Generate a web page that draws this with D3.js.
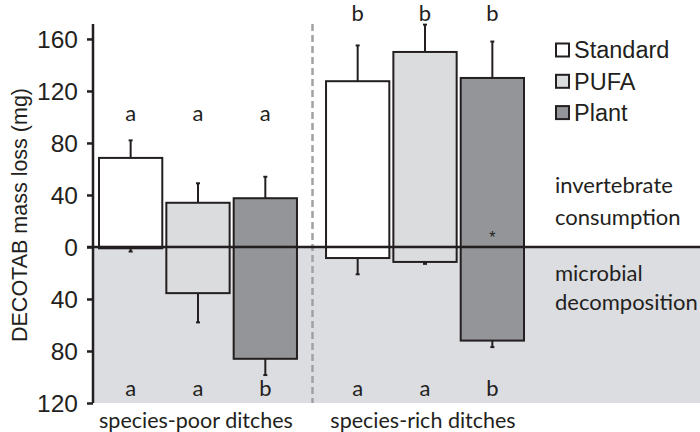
<!DOCTYPE html>
<html>
<head>
<meta charset="utf-8">
<script src="https://cdn.jsdelivr.net/npm/d3@7/dist/d3.min.js"></script>
<style>
  html, body { margin: 0; padding: 0; background: #fff; }
  svg { display: block; }
</style>
</head>
<body>
<svg id="chart" width="700" height="432"></svg>
<script>
// ---- data ----
const categories = ["species-poor ditches", "species-rich ditches"];
const series = ["Standard", "PUFA", "Plant"];
// invertebrate consumption (positive part), per category, per series
const invertebrate = [[68.5, 34, 37.5], [127.5, 150, 130]];
const invertebrateErr = [[82, 49, 54], [155, 171, 158]];
// microbial decomposition (plotted downward), per category, per series
const microbial = [[1, 35.5, 86], [8.5, 11.5, 72]];
const microbialErr = [[3.5, 58, 98.5], [21, 13, 77]];
// significance letters
const lettersTop = [["a", "a", "a"], ["b", "b", "b"]];
const lettersBottom = [["a", "a", "b"], ["a", "a", "b"]];
const lettersTopLevel = [103, 180];
const lettersBottomLevel = -109;
const asterisk = { category: 1, series: 2, level: 10 };
const yTicks = [-120, -80, -40, 0, 40, 80, 120, 160];
const colors = { Standard: "#ffffff", PUFA: "#dbdcde", Plant: "#949598" };

// ---- layout ----
const svg = d3.select("#chart");
const W = 700;
const axisX = 93;
const y = d3.scaleLinear().domain([-120, 171.5]).range([403, 24]);
const x0 = d3.scaleBand().domain(categories).range([99, 524]).paddingInner(0.128).paddingOuter(0);
const x1 = d3.scaleBand().domain(series).range([0, x0.bandwidth()]).padding(0.06).paddingOuter(0);

const arial = "'Liberation Sans', Arial, sans-serif";
const cal = "Lato, 'Open Sans', sans-serif";
const ink = "#231f20";

// gray background for microbial part
svg.append("rect")
  .attr("x", axisX).attr("y", y(0))
  .attr("width", W - axisX).attr("height", y(-120) - y(0))
  .attr("fill", "#dcdde0");

// dashed separator
const sepX = (x0(categories[0]) + x0.bandwidth() + x0(categories[1])) / 2 + 1;
svg.append("line")
  .attr("x1", sepX).attr("x2", sepX)
  .attr("y1", y(171.5)).attr("y2", y(-120))
  .attr("stroke", "#a0a1a4").attr("stroke-width", 2.5)
  .attr("stroke-dasharray", "7,4");

// bars
const rows = [];
categories.forEach((c, ci) => series.forEach((s, si) => rows.push({
  c, s, ci, si,
  up: invertebrate[ci][si], upErr: invertebrateErr[ci][si],
  down: microbial[ci][si], downErr: microbialErr[ci][si]
})));

const g = svg.append("g");
const ebW = 2;
const cxOf = d => x0(d.c) + x1(d.s) + x1.bandwidth() / 2;
g.selectAll(".eu").data(rows).enter().append("line")
  .attr("x1", cxOf).attr("x2", cxOf)
  .attr("y1", d => y(d.up)).attr("y2", d => y(d.upErr))
  .attr("stroke", ink).attr("stroke-width", ebW);
g.selectAll(".euc").data(rows).enter().append("line")
  .attr("x1", d => cxOf(d) - 2).attr("x2", d => cxOf(d) + 2)
  .attr("y1", d => y(d.upErr)).attr("y2", d => y(d.upErr))
  .attr("stroke", ink).attr("stroke-width", 2);
g.selectAll(".ed").data(rows).enter().append("line")
  .attr("x1", cxOf).attr("x2", cxOf)
  .attr("y1", d => y(-d.down)).attr("y2", d => y(-d.downErr))
  .attr("stroke", ink).attr("stroke-width", ebW);
g.selectAll(".edc").data(rows).enter().append("line")
  .attr("x1", d => cxOf(d) - 2).attr("x2", d => cxOf(d) + 2)
  .attr("y1", d => y(-d.downErr)).attr("y2", d => y(-d.downErr))
  .attr("stroke", ink).attr("stroke-width", 2);

g.selectAll(".bu").data(rows).enter().append("rect")
  .attr("x", d => x0(d.c) + x1(d.s))
  .attr("width", x1.bandwidth())
  .attr("y", d => y(d.up)).attr("height", d => y(0) - y(d.up))
  .attr("fill", d => colors[d.s]).attr("stroke", ink).attr("stroke-width", 2);
g.selectAll(".bd").data(rows).enter().append("rect")
  .attr("x", d => x0(d.c) + x1(d.s))
  .attr("width", x1.bandwidth())
  .attr("y", y(0)).attr("height", d => y(-d.down) - y(0))
  .attr("fill", d => colors[d.s]).attr("stroke", ink).attr("stroke-width", 2);

// zero line
svg.append("line")
  .attr("x1", axisX - 6).attr("x2", W)
  .attr("y1", y(0)).attr("y2", y(0))
  .attr("stroke", ink).attr("stroke-width", 2.5);

// y axis
const yAxis = d3.axisLeft(y).tickValues(yTicks).tickFormat(d => Math.abs(d)).tickSize(6).tickSizeOuter(0);
const ya = svg.append("g").attr("transform", `translate(${axisX},0)`).call(yAxis);
ya.select(".domain").attr("stroke", ink).attr("stroke-width", 2.5)
  .attr("d", `M0,${y(171.5)}V${y(-120)}`);
ya.selectAll(".tick line").attr("stroke", ink).attr("stroke-width", 2.5);
ya.selectAll(".tick text").attr("font-family", arial).attr("font-size", 24.5)
  .attr("fill", ink).attr("x", -15).attr("dy", "0.36em");

// y label
svg.append("text")
  .attr("transform", `translate(27,${215}) rotate(-90)`)
  .attr("text-anchor", "middle")
  .attr("font-family", arial).attr("font-size", 21.5).attr("fill", ink)
  .text("DECOTAB mass loss (mg)");

// letters
rows.forEach(d => {
  const cx = cxOf(d);
  svg.append("text").attr("x", cx).attr("y", y(lettersTopLevel[d.ci]))
    .attr("dy", "0.35em").attr("text-anchor", "middle")
    .attr("font-family", cal).attr("font-size", 22).attr("fill", ink)
    .text(lettersTop[d.ci][d.si]);
  svg.append("text").attr("x", cx).attr("y", y(lettersBottomLevel))
    .attr("dy", "0.35em").attr("text-anchor", "middle")
    .attr("font-family", cal).attr("font-size", 22).attr("fill", ink)
    .text(lettersBottom[d.ci][d.si]);
});

// asterisk
svg.append("text")
  .attr("x", x0(categories[asterisk.category]) + x1(series[asterisk.series]) + x1.bandwidth() / 2)
  .attr("y", y(asterisk.level)).attr("dy", "0.55em").attr("text-anchor", "middle")
  .attr("font-family", arial).attr("font-size", 16).attr("fill", ink).text("*");

// category labels
categories.forEach(c => {
  svg.append("text").attr("x", x0(c) + x0.bandwidth() / 2 - 2).attr("y", 428)
    .attr("text-anchor", "middle").attr("font-family", cal).attr("font-size", 21.5).attr("fill", ink)
    .text(c);
});

// legend
const lg = svg.append("g");
series.forEach((s, i) => {
  const cy = 50 + i * 31.3;
  lg.append("rect").attr("x", 556).attr("y", cy - 6.5).attr("width", 13).attr("height", 13)
    .attr("fill", colors[s]).attr("stroke", ink).attr("stroke-width", 2);
  lg.append("text").attr("x", 574).attr("y", cy).attr("dy", "0.36em")
    .attr("font-family", arial).attr("font-size", 23.5).attr("fill", ink).text(s);
});

// annotations
const ann = [["invertebrate", 185], ["consumption", 217], ["microbial", 273], ["decomposition", 302]];
ann.forEach(([t, yy]) => {
  svg.append("text").attr("x", 555).attr("y", yy).attr("dy", "0.35em")
    .attr("font-family", cal).attr("font-size", 22).attr("fill", ink).text(t);
});
</script>
</body>
</html>
